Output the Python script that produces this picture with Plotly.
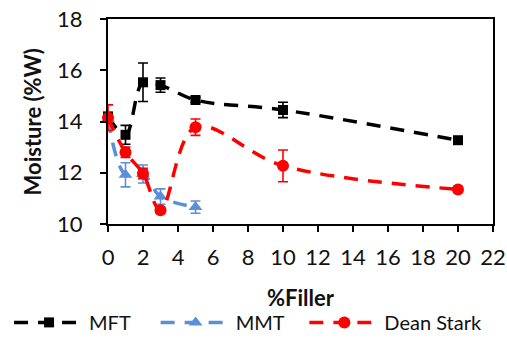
import plotly.graph_objects as go

# Filler content (%) for each measurement series
filler_mft = [0, 1, 2, 3, 5, 10, 20]
moisture_mft = [14.2, 13.48, 15.53, 15.42, 14.84, 14.45, 13.27]
err_mft = [0.12, 0.37, 0.75, 0.28, 0.1, 0.3, 0.1]

filler_mmt = [0, 1, 2, 3, 5]
moisture_mmt = [14.1, 11.92, 11.95, 11.07, 10.66]
err_mmt = [0.12, 0.47, 0.35, 0.3, 0.24]

filler_ds = [0, 1, 2, 3, 5, 10, 20]
moisture_ds = [14.15, 12.8, 11.97, 10.54, 13.78, 12.27, 11.35]
err_ds = [0.5, 0.2, 0.2, 0.1, 0.32, 0.62, 0.08]

x_ticks = list(range(0, 23, 2))
y_ticks = list(range(10, 19, 2))

FONT = "Lato"
NBSP = "\u00a0"

fig = go.Figure()


def add_series(x, y, err, name, color, symbol, size, pad):
    # trailing non-breaking spaces widen the legend entry
    fig.add_trace(go.Scatter(
        x=x, y=y, name=name + NBSP * pad, mode="lines+markers",
        line=dict(color=color, width=3.5, dash="14px,10px", shape="spline", smoothing=1),
        marker=dict(color=color, symbol=symbol, size=size),
        error_y=dict(type="data", array=err, visible=True, color=color, thickness=1.6, width=5),
        cliponaxis=False,
    ))


add_series(filler_mft, moisture_mft, err_mft, "MFT", "#000000", "square", 10, 4)
add_series(filler_mmt, moisture_mmt, err_mmt, "MMT", "#5B8FD8", "triangle-up", 12, 3)
add_series(filler_ds, moisture_ds, err_ds, "Dean Stark", "#FF0000", "circle", 12, 0)

axis_common = dict(
    showline=True, linecolor="black", linewidth=2, mirror=True,
    ticks="outside", ticklen=6, tickwidth=2, tickcolor="black",
    showgrid=False, zeroline=False,
    tickfont=dict(family=FONT, size=22, color="#111111"),
)

fig.update_layout(
    width=507, height=347,
    margin=dict(l=108, r=14, t=19, b=123, autoexpand=False),
    paper_bgcolor="white", plot_bgcolor="white",
    font=dict(family=FONT, color="#111111"),
    xaxis=dict(range=[0, 22], tickvals=x_ticks, ticklabelstandoff=7, **axis_common),
    yaxis=dict(range=[10, 18], tickvals=y_ticks, ticklabelstandoff=13, **axis_common),
    legend=dict(
        orientation="h", x=-0.257, xanchor="left",
        y=-0.48, yanchor="middle",
        font=dict(family=FONT, size=20, color="#111111"),
        itemwidth=70,
        bgcolor="rgba(0,0,0,0)",
    ),
    showlegend=True,
)

# Axis titles
fig.add_annotation(text="<b>%Filler</b>", xref="paper", yref="paper",
                   x=0.5, y=-0.36, xanchor="center", yanchor="middle", showarrow=False,
                   font=dict(family=FONT, size=22, color="#111111"))
fig.add_annotation(text="<b>Moisture (%W)</b>", xref="paper", yref="paper",
                   x=-0.195, y=0.5, xanchor="center", yanchor="middle", showarrow=False,
                   textangle=-90, font=dict(family=FONT, size=22, color="#111111"))

fig.write_html("out.html")
